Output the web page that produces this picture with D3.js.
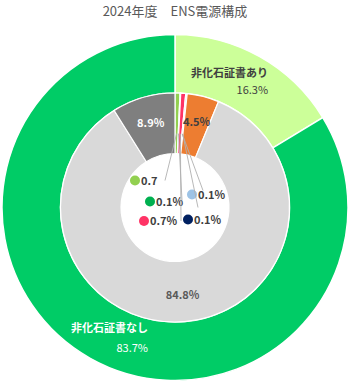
<!DOCTYPE html>
<html>
<head>
<meta charset="utf-8">
<script src="https://cdn.jsdelivr.net/npm/d3@7"></script>
<style>
  body { margin: 0; background: #fff; }
  svg text { font-family: "Noto Sans CJK JP", "Noto Sans", sans-serif; }
</style>
</head>
<body>
<svg width="350" height="388"></svg>
<script>
// outer ring: non-fossil certificate yes / no
const outerCats = ["非化石証書あり", "非化石証書なし"];
const outerVals = [16.3, 83.7];
const outerColors = ["#ccff99", "#00cc66"];

// inner ring: generation sources
const innerVals = [0.7, 0.1, 0.7, 0.1, 0.1, 4.5, 84.8, 8.9];
const innerLabels = ["0.7", "0.1%", "0.7%", "0.1%", "0.1%", "4.5%", "84.8%", "8.9%"];
const innerColors = ["#92d050", "#00b050", "#ff3366", "#9dc3e6", "#002060", "#ed7d31", "#d9d9d9", "#7f7f7f"];

const svg = d3.select("svg");
const cx = 175, cy = 207.5;
const R = {outer: 173, mid: 114.5, hole: 54};

const g = svg.append("g").attr("transform", `translate(${cx},${cy})`);

svg.append("text")
  .attr("x", 175).attr("y", 16)
  .attr("text-anchor", "middle")
  .attr("fill", "#595959")
  .style("font-size", "13px")
  .text("2024年度\u3000ENS電源構成");

const pie = d3.pie().sort(null).value(d => d);

const arcOuter = d3.arc().innerRadius(R.mid).outerRadius(R.outer);
const arcInner = d3.arc().innerRadius(R.hole).outerRadius(R.mid);

const outerArcs = pie(outerVals);
const innerArcs = pie(innerVals);

g.selectAll("path.outer")
  .data(outerArcs)
  .enter().append("path")
  .attr("class", "outer")
  .attr("d", arcOuter)
  .attr("fill", (d, i) => outerColors[i])
  .attr("stroke", "#fff")
  .attr("stroke-width", 1.5);

g.selectAll("path.inner")
  .data(innerArcs)
  .enter().append("path")
  .attr("class", "inner")
  .attr("d", arcInner)
  .attr("fill", (d, i) => innerColors[i])
  .attr("stroke", "#fff")
  .attr("stroke-width", 1.2);

// big inner labels (4.5%, 84.8%, 8.9%)
const labelArc = d3.arc().innerRadius(88).outerRadius(88);
const bigStyle = {5: "#404040", 6: "#595959", 7: "#ffffff"};
g.selectAll("text.big")
  .data(innerArcs.filter(d => d.index >= 5))
  .enter().append("text")
  .attr("class", "big")
  .attr("transform", d => {
    const c = labelArc.centroid(d);
    return `translate(${c[0]},${c[1] + 4})`;
  })
  .attr("text-anchor", "middle")
  .attr("fill", d => bigStyle[d.index])
  .style("font-size", "11px")
  .style("font-weight", "bold")
  .text(d => innerLabels[d.index]);

// small slice labels placed inside the hole with leader lines
const smallPos = [
  {m: [-40, -27], end: [-10, -27]},
  {m: [-25, -6], end: [7, -7]},
  {m: [-31, 13.5], end: [6, 13.5]},
  {m: [17, -13], end: [28, -17]},
  {m: [13, 12], end: [23, 0]}
];
const startArc = d3.arc().innerRadius(R.hole + 20).outerRadius(R.hole + 20);

const small = g.selectAll("g.small")
  .data(innerArcs.filter(d => d.index < 5))
  .enter().append("g")
  .attr("class", "small");

small.append("line")
  .attr("x1", d => startArc.centroid(d)[0])
  .attr("y1", d => startArc.centroid(d)[1])
  .attr("x2", d => smallPos[d.index].end[0])
  .attr("y2", d => smallPos[d.index].end[1])
  .attr("stroke", "#b0b0b0")
  .attr("stroke-width", 0.9);

small.append("circle")
  .attr("cx", d => smallPos[d.index].m[0])
  .attr("cy", d => smallPos[d.index].m[1])
  .attr("r", 5)
  .attr("fill", d => innerColors[d.index]);

small.append("text")
  .attr("x", d => smallPos[d.index].m[0] + 6)
  .attr("y", d => smallPos[d.index].m[1] + 4)
  .attr("fill", "#404040")
  .style("font-size", "11px")
  .style("font-weight", "bold")
  .text(d => innerLabels[d.index]);

// outer ring labels
const outerLabelArc = d3.arc().innerRadius(143).outerRadius(143);
const outerText = [
  {dx: 23, dy: -6, gap: 17, fill: "#404040"},
  {dx: 43, dy: 0, gap: 20, fill: "#ffffff"}
];
outerArcs.forEach((d, i) => {
  const c = outerLabelArc.centroid(d);
  const t = outerText[i];
  g.append("text")
    .attr("x", c[0] + t.dx).attr("y", c[1] + t.dy)
    .attr("text-anchor", "end")
    .attr("fill", t.fill)
    .style("font-size", "11px")
    .style("font-weight", "bold")
    .text(outerCats[i]);
  g.append("text")
    .attr("x", c[0] + t.dx).attr("y", c[1] + t.dy + t.gap)
    .attr("text-anchor", "end")
    .attr("fill", t.fill)
    .style("font-size", "11px")
    .text(outerVals[i].toFixed(1) + "%");
});
</script>
</body>
</html>
